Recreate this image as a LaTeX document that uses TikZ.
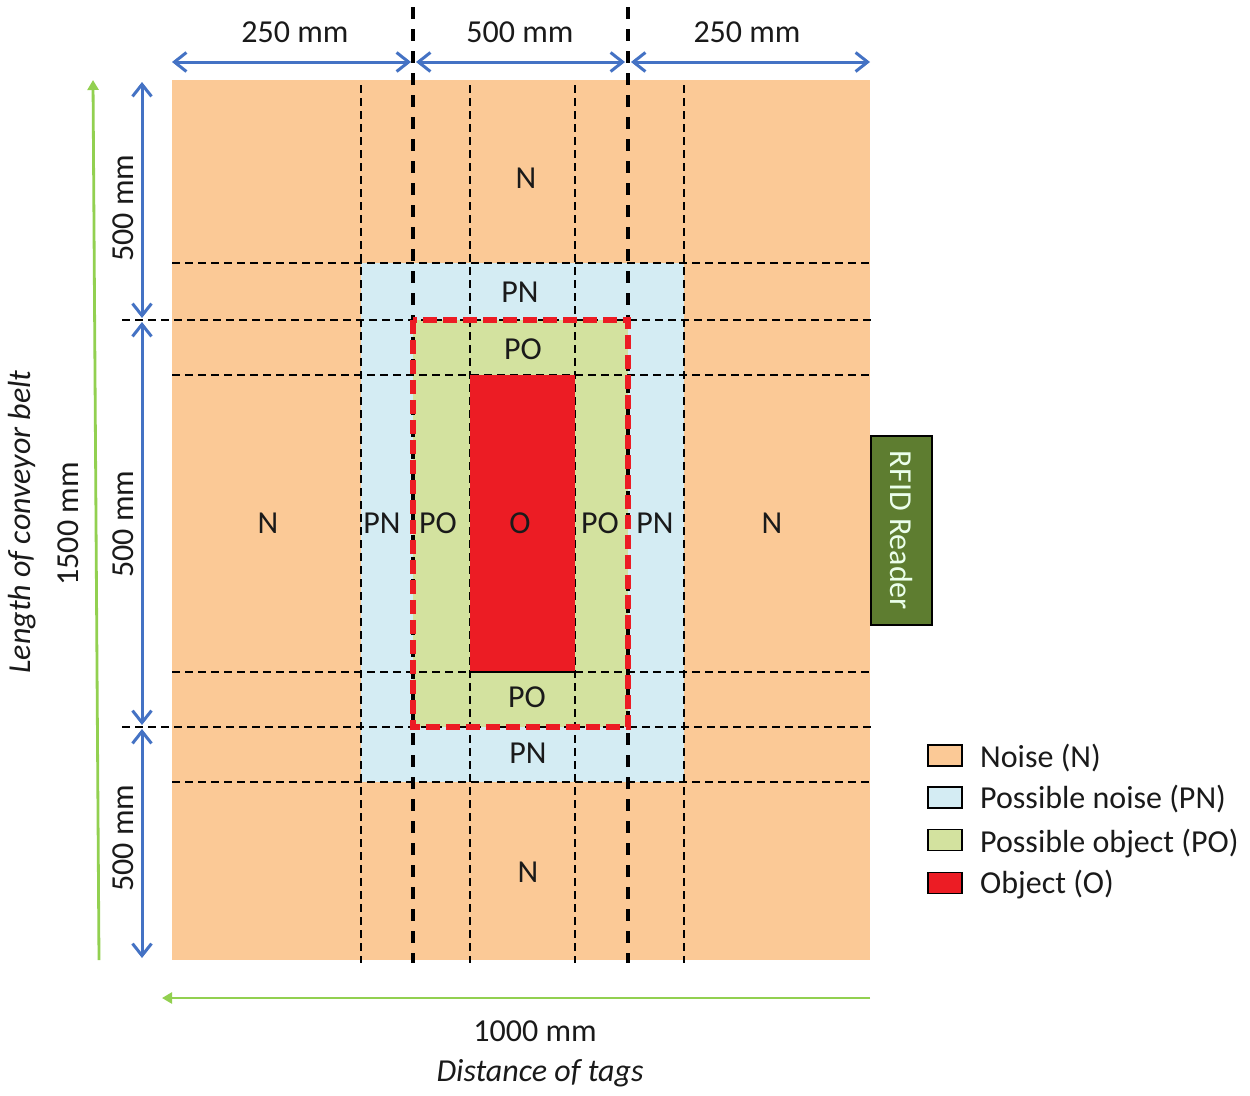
\documentclass[tikz,border=0pt]{standalone}
\usepackage{fontspec}
\setmainfont{Carlito}
\usetikzlibrary{arrows.meta}
\definecolor{noise}{HTML}{FBC996}
\definecolor{pnoise}{HTML}{D4ECF3}
\definecolor{pobj}{HTML}{D3E29F}
\definecolor{obj}{HTML}{EC1C24}
\definecolor{dimblue}{HTML}{4472C4}
\definecolor{dimgreen}{HTML}{92D050}
\definecolor{reader}{HTML}{5E7D30}
\definecolor{txt}{HTML}{1A1A1A}
\begin{document}
\begin{tikzpicture}[x=1pt,y=-1pt,
  lbl/.style={font=\fontsize{32}{38}\selectfont, text=txt, inner sep=0pt, anchor=base},
  thingrid/.style={black, line width=1.8pt, dash pattern=on 8pt off 5pt},
  thickgrid/.style={black, line width=3.5pt, dash pattern=on 12pt off 10pt},
  dimarrow/.style={dimblue, line width=3pt, {Straight Barb[length=12pt,width=19pt]}-{Straight Barb[length=12pt,width=19pt]}},
  totarrow/.style={dimgreen, line width=2.8pt, -{Triangle[length=10pt,width=11pt]}},
  legbox/.style={draw=black, line width=1.6pt, minimum width=34pt, minimum height=21pt, inner sep=0pt}
]
\useasboundingbox[fill=white] (0,0) rectangle (1250,1095);

% regions
\fill[noise] (172,80) rectangle (870,960);
\fill[pnoise] (361,263) rectangle (684,782);
\fill[pobj] (413,320) rectangle (628,727);

% thin grid lines (vertical)
\foreach \x in {361,470,575,684} \draw[thingrid] (\x,85) -- (\x,963);
% thin grid lines (horizontal)
\foreach \y in {263,375,672,782} \draw[thingrid] (172,\y) -- (872,\y);
\foreach \y in {320,727} \draw[thingrid] (122,\y) -- (872,\y);

% object
\fill[obj] (470,375) rectangle (575,672);
\draw[black, line width=1.5pt] (470,672) -- (575,672);

% thick dividers
\foreach \x in {413,628} \draw[thickgrid] (\x,7) -- (\x,963);

% red dashed frame
\draw[obj, line width=5.5pt, dash pattern=on 14pt off 6pt] (413,320) rectangle (628,727);

% cell labels
\node[lbl] (nTop) at (526,188) {N};
\node[lbl] (pnTop) at (520,302) {PN};
\node[lbl] (poTop) at (523,359) {PO};
\node[lbl] (nLeft) at (268,533) {N};
\node[lbl] (pnLeft) at (382,533) {PN};
\node[lbl] (poLeft) at (438,533) {PO};
\node[lbl] (oMid) at (520,533) {O};
\node[lbl] (poRight) at (600,533) {PO};
\node[lbl] (pnRight) at (655,533) {PN};
\node[lbl] (nRight) at (772,533) {N};
\node[lbl] (poBot) at (527,707) {PO};
\node[lbl] (pnBot) at (528,763) {PN};
\node[lbl] (nBot) at (528,882) {N};

% top dimension arrows
\coordinate (t0) at (172,62);
\coordinate (t1a) at (411,62);
\coordinate (t1b) at (416,62);
\coordinate (t2a) at (625,62);
\coordinate (t2b) at (631,62);
\coordinate (t3) at (870,62);
\draw[dimarrow] (t0) -- (t1a);
\draw[dimarrow] (t1b) -- (t2a);
\draw[dimarrow] (t2b) -- (t3);
\node[lbl] (d1) at (295,42) {250 mm};
\node[lbl] (d2) at (520,42) {500 mm};
\node[lbl] (d3) at (747,42) {250 mm};

% left dimension arrows
\coordinate (l0) at (142,82);
\coordinate (l1a) at (142,318);
\coordinate (l1b) at (142,322);
\coordinate (l2a) at (142,725);
\coordinate (l2b) at (142,729);
\coordinate (l3) at (142,958);
\draw[dimarrow] (l0) -- (l1a);
\draw[dimarrow] (l1b) -- (l2a);
\draw[dimarrow] (l2b) -- (l3);
\node[lbl, rotate=90] (v1) at (133,208) {500 mm};
\node[lbl, rotate=90] (v2) at (133,524) {500 mm};
\node[lbl, rotate=90] (v3) at (133,838) {500 mm};

% total length arrow
\coordinate (g0) at (99,960);
\coordinate (g1) at (93,80);
\draw[totarrow] (g0) -- (g1);
\node[lbl, rotate=90] (len) at (78,524) {1500 mm};
\node[font=\fontsize{32}{38}\selectfont\itshape, text=txt, inner sep=0pt, rotate=90] (lenT) at (22,522) {Length of conveyor belt};

% total distance arrow
\coordinate (h0) at (870,998);
\coordinate (h1) at (162,998);
\draw[totarrow] (h0) -- (h1);
\node[lbl] (dist) at (535,1041) {1000 mm};
\node[lbl, font=\fontsize{32}{38}\selectfont\itshape] (distT) at (540,1081) {Distance of tags};

% RFID reader
\draw[black, line width=1.5pt, fill=reader] (871,436) rectangle (932,625);
\node[font=\fontsize{32}{38}\selectfont, text=white!92!green, inner sep=0pt, rotate=-90] (rfid) at (901.5,530.5) {RFID Reader};

% legend
\node[legbox, fill=noise] (k1) at (945,755.5) {};
\node[legbox, fill=pnoise] (k2) at (945,797.5) {};
\node[legbox, fill=pobj] (k3) at (945,840) {};
\node[legbox, fill=obj] (k4) at (945,883) {};
\node[lbl, anchor=base west] (k1t) at (980,767) {Noise (N)};
\node[lbl, anchor=base west] (k2t) at (980,808) {Possible noise (PN)};
\node[lbl, anchor=base west] (k3t) at (980,852) {Possible object (PO)};
\node[lbl, anchor=base west] (k4t) at (980,893) {Object (O)};
\end{tikzpicture}
\end{document}
